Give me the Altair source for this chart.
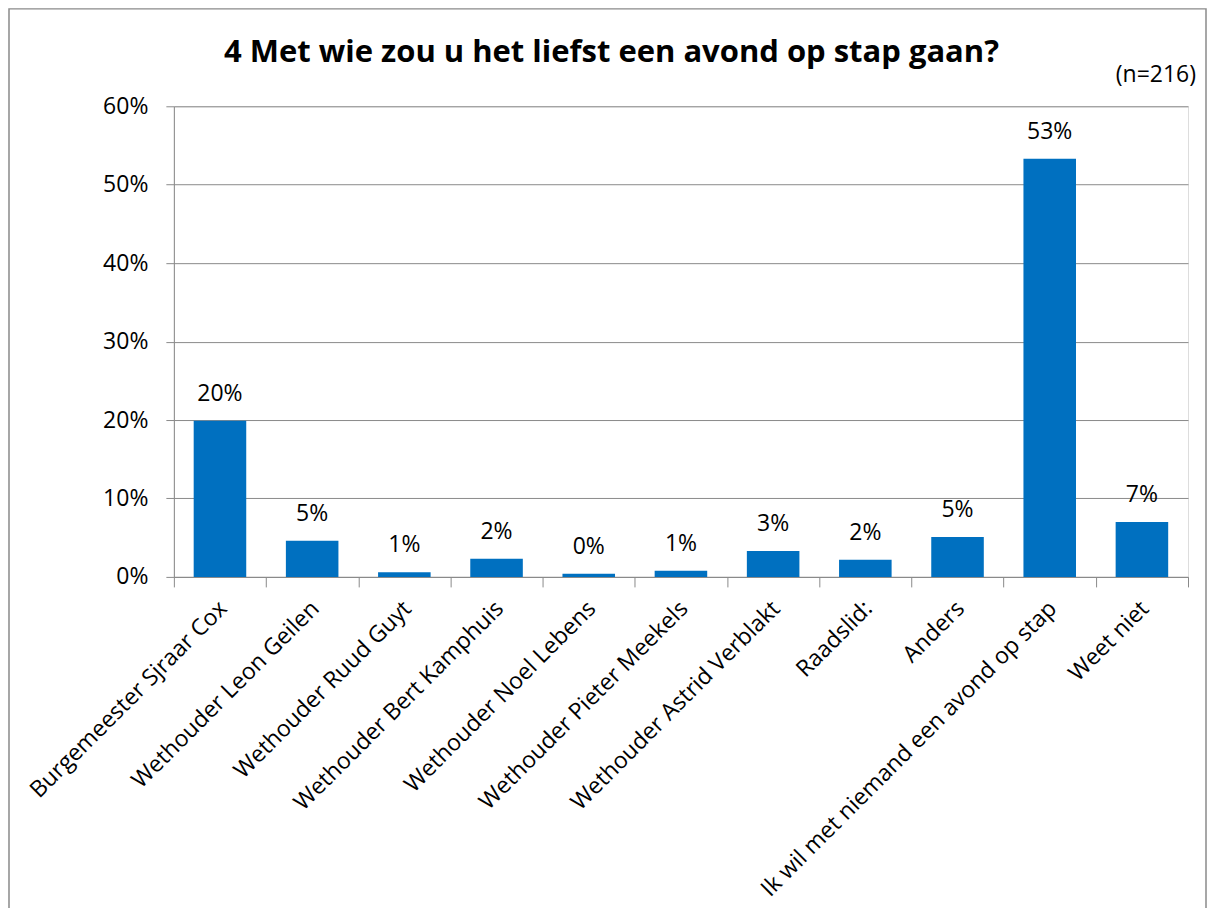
import altair as alt
import pandas as pd

categories = [
    "Burgemeester Sjraar Cox",
    "Wethouder Leon Geilen",
    "Wethouder Ruud Guyt",
    "Wethouder Bert Kamphuis",
    "Wethouder Noel Lebens",
    "Wethouder Pieter Meekels",
    "Wethouder Astrid Verblakt",
    "Raadslid:",
    "Anders",
    "Ik wil met niemand een avond op stap",
    "Weet niet",
]
values = [0.199, 0.046, 0.006, 0.023, 0.004, 0.008, 0.033, 0.022, 0.051, 0.533, 0.070]
value_labels = ["20%", "5%", "1%", "2%", "0%", "1%", "3%", "2%", "5%", "53%", "7%"]
y_ticks = [0, 0.1, 0.2, 0.3, 0.4, 0.5, 0.6]
title_text = "4 Met wie zou u het liefst een avond op stap gaan?"
n_text = "(n=216)"

df = pd.DataFrame({"cat": categories, "val": values, "lab": value_labels})

FONT = "Open Sans"
GRAY = "#8a8a8a"
FS = 23
W, H = 1015, 471
PAD = {"left": 166, "top": 98, "right": 19, "bottom": 331}

x_enc = alt.X(
    "cat:N",
    sort=categories,
    title=None,
    scale=alt.Scale(paddingInner=0, paddingOuter=0),
    axis=alt.Axis(
        tickBand="extent",
        labelAngle=-45,
        labelFont=FONT,
        labelFontSize=FS,
        labelColor="black",
        labelPadding=10,
        labelOffset=-5,
        labelLimit=700,
        tickSize=10,
        tickColor=GRAY,
        domainColor=GRAY,
        grid=False,
    ),
)
y_enc = alt.Y(
    "val:Q",
    title=None,
    scale=alt.Scale(domain=[0, 0.6], nice=False),
    axis=alt.Axis(
        values=y_ticks,
        format=".0%",
        labelFont=FONT,
        labelFontSize=FS,
        labelColor="black",
        labelPadding=18,
        tickSize=8,
        tickColor=GRAY,
        domainColor=GRAY,
        gridColor=GRAY,
        gridWidth=1,
    ),
)

base = alt.Chart(df)
bars = base.mark_bar(color="#0070C0", width={"band": 0.57}).encode(x=x_enc, y=y_enc)
labels = base.mark_text(
    font=FONT, fontSize=FS, color="black", baseline="alphabetic", dy=-20
).encode(x=alt.X("cat:N", sort=categories), y="val:Q", text="lab:N")

nlab = alt.Chart(alt.Data(values=[{"t": n_text}])).mark_text(
    font=FONT, fontSize=FS, color="black", align="right", baseline="middle"
).encode(x=alt.value(W + 8), y=alt.value(-31), text="t:N")

title = alt.Chart(alt.Data(values=[{"t": title_text}])).mark_text(
    font=FONT, fontSize=31, fontWeight="bold", color="black",
    align="center", baseline="alphabetic"
).encode(x=alt.value(438), y=alt.value(-44), text="t:N")

frame = alt.Chart(alt.Data(values=[{}])).mark_rect(
    fill="transparent", stroke=GRAY, strokeWidth=1.5
).encode(
    x=alt.value(-PAD["left"] + 1),
    x2=alt.value(W + PAD["right"] - 1),
    y=alt.value(-PAD["top"] + 0.5),
    y2=alt.value(H + 600),
)

chart = (
    alt.layer(frame, bars, labels, nlab, title)
    .properties(
        width=W,
        height=H,
        autosize=alt.AutoSizeParams(type="none"),
        padding=PAD,
    )
    .configure_view(stroke=None)
    .configure(background="white")
)

chart.save("out.html", embed_options={"renderer": "svg", "actions": False})
